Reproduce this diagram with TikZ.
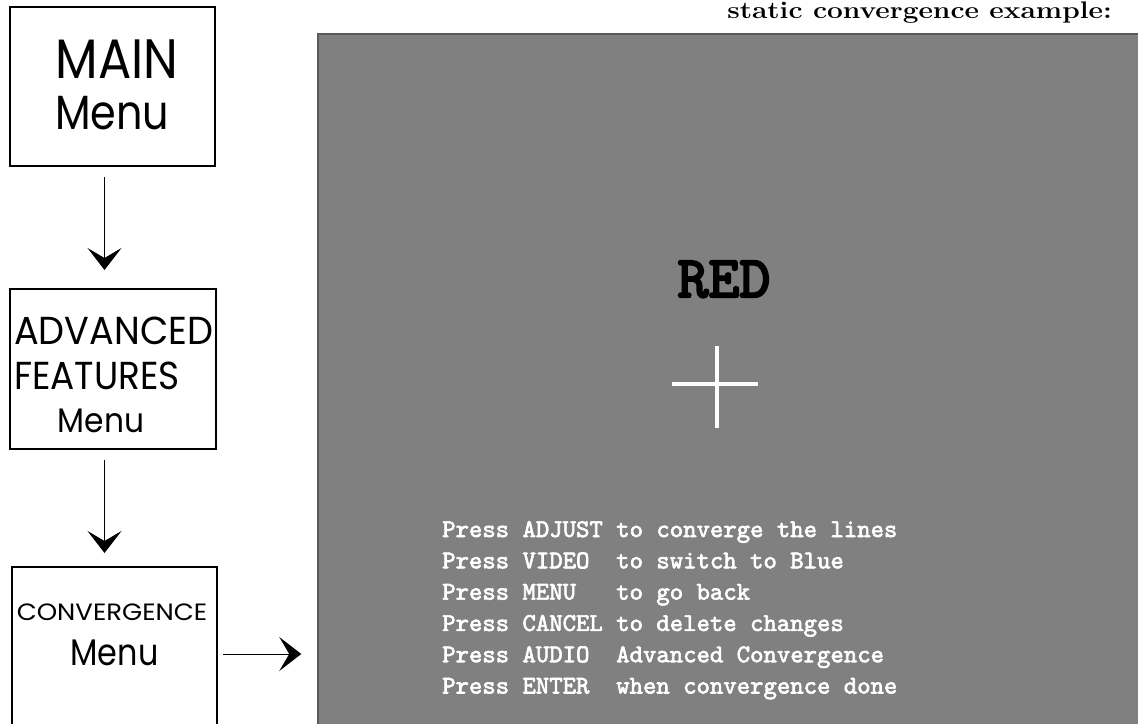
\documentclass[tikz,border=0pt]{standalone}
\usepackage{fontspec}
\usetikzlibrary{arrows.meta}
\newfontfamily\boxfont{Poppins}
\newfontfamily\osdfont[FakeBold=2.5]{lmmono10-regular.otf}
\newfontfamily\redfont[FakeBold=3.5]{lmmono10-regular.otf}
\definecolor{screengray}{RGB}{128,128,128}
\definecolor{screenedge}{RGB}{90,90,90}
\newcommand{\hsq}[2]{\scalebox{#1}[1]{#2}}
\begin{document}
\begin{tikzpicture}[x=1pt,y=-1pt,
  menubox/.style={draw, line width=2pt, inner sep=0pt},
  flow/.style={line width=1pt, -{Stealth[length=22pt,width=34pt,inset=10pt]}},
  boxtext/.style={inner sep=0pt, anchor=base},
  osd/.style={font=\osdfont\fontsize{25.5}{31.3}\selectfont, text=white, inner sep=0pt, anchor=base west}]
\clip (0,0) rectangle (1138,723);
% menu boxes
\node[menubox, minimum width=205pt, minimum height=159pt] (main) at (112.5,86.5) {};
\node[menubox, minimum width=206pt, minimum height=160pt] (adv) at (113,369) {};
\node[menubox, minimum width=205pt, minimum height=200pt] (conv) at (114.5,667) {};
% box texts
\node[boxtext, font=\boxfont\fontsize{55.5}{55.5}\selectfont] (t1) at (117,78) {\hsq{0.89}{MAIN}};
\node[boxtext, font=\boxfont\fontsize{48}{48}\selectfont] (t2) at (112,129) {\hsq{0.86}{Menu}};
\node[boxtext, anchor=base west, font=\boxfont\fontsize{39}{39}\selectfont] (t3) at (14,344) {\hsq{0.94}{ADVANCED}};
\node[boxtext, anchor=base west, font=\boxfont\fontsize{39}{39}\selectfont] (t4) at (14,389) {\hsq{0.92}{FEATURES}};
\node[boxtext, font=\boxfont\fontsize{34}{34}\selectfont] (t5) at (101,432) {\hsq{0.92}{Menu}};
\node[boxtext, font=\boxfont\fontsize{23.6}{23.6}\selectfont] (t6) at (112,620) {\hsq{1.1}{CONVERGENCE}};
\node[boxtext, font=\boxfont\fontsize{37}{37}\selectfont] (t7) at (114.5,665) {\hsq{0.86}{Menu}};
% screen
\node[fill=screengray, draw=screenedge, line width=1.5pt, minimum width=827pt, minimum height=706pt, inner sep=0pt] (screen) at (731.5,387) {};
\node[anchor=base east, inner sep=0pt, font=\bfseries\fontsize{24}{24}\selectfont] (title) at (1112,18) {\hsq{1.17}{static convergence example:}};
\node[inner sep=0pt, anchor=base, font=\redfont\fontsize{59}{59}\selectfont] (red) at (724,297) {RED};
\coordinate (cl) at (672,384); \coordinate (cr) at (758,384);
\coordinate (ct) at (717,346); \coordinate (cb) at (717,428);
\draw[white, line width=4pt] (cl) -- (cr) (ct) -- (cb);
\node[osd] (l1) at (442,537) {Press ADJUST to converge the lines};
\node[osd] (l2) at (442,568.3) {Press VIDEO~~to switch to Blue};
\node[osd] (l3) at (442,599.6) {Press MENU~~~to go back};
\node[osd] (l4) at (442,630.9) {Press CANCEL to delete changes};
\node[osd] (l5) at (442,662.2) {Press AUDIO~~Advanced Convergence};
\node[osd] (l6) at (442,693.5) {Press ENTER~~when convergence done};
% connectors
\draw[flow, shorten <=10pt, shorten >=18pt] ([xshift=-8pt]main.south) -- ([xshift=-8.5pt]adv.north);
\draw[flow, shorten <=10pt, shorten >=13pt] ([xshift=-8.5pt]adv.south) -- ([xshift=-10pt]conv.north);
\draw[flow, shorten <=5pt, shorten >=16pt] ([yshift=13pt]conv.east) -- (screen.west |- 0,654);
\end{tikzpicture}
\end{document}
